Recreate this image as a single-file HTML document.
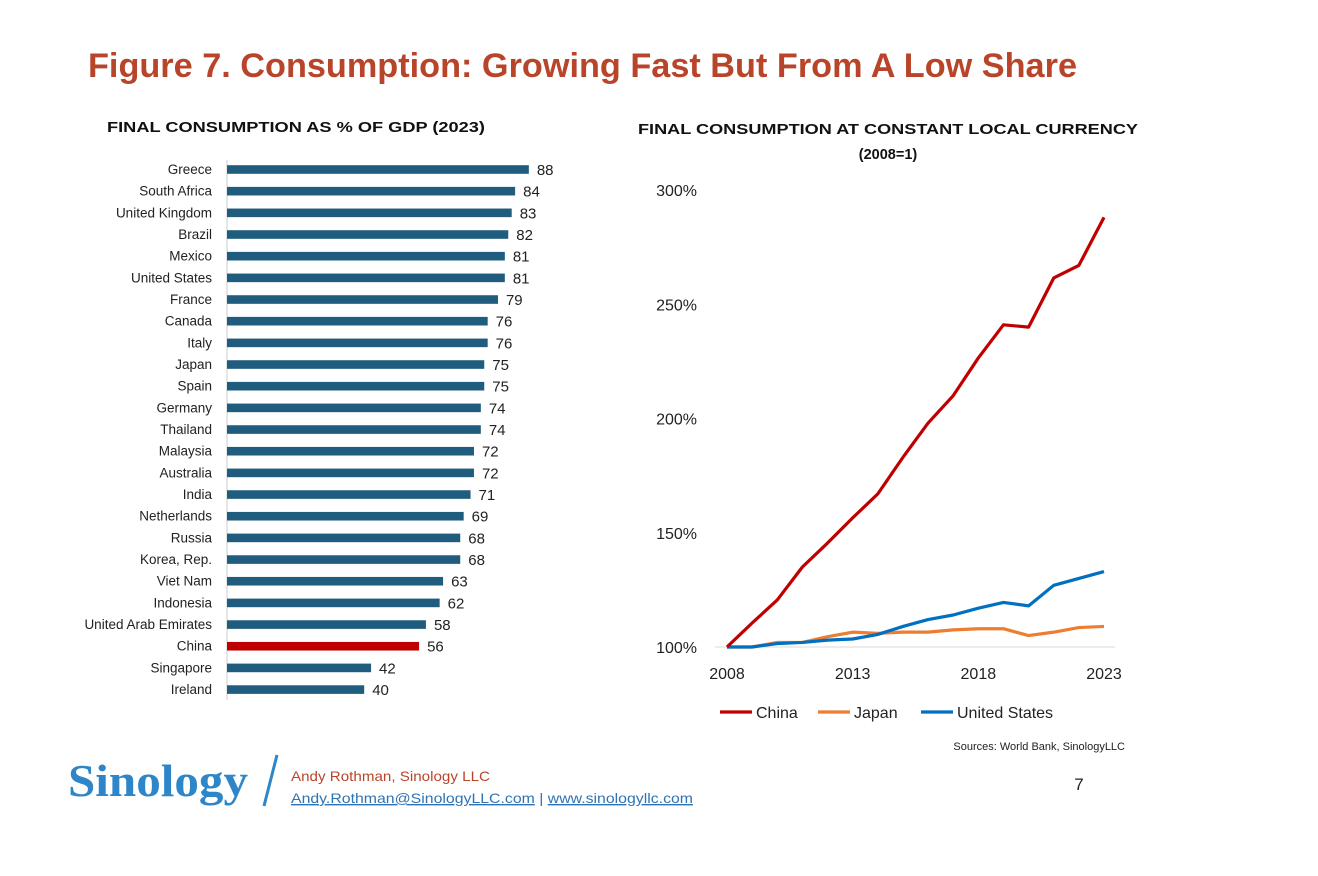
<!DOCTYPE html>
<html><head><meta charset="utf-8"><style>
body{margin:0;background:#fff;}
svg{display:block;font-family:"Liberation Sans",sans-serif;}
</style></head><body>
<svg id="s" width="1318" height="876" viewBox="0 0 1318 876">
<text x="88" y="77" font-size="34" font-weight="bold" fill="#b8452a" textLength="989" lengthAdjust="spacingAndGlyphs">Figure 7. Consumption: Growing Fast But From A Low Share</text>
<text x="296" y="132" font-size="14.5" font-weight="bold" text-anchor="middle" fill="#111" textLength="378" lengthAdjust="spacingAndGlyphs">FINAL CONSUMPTION AS % OF GDP (2023)</text>
<text x="888" y="134" font-size="14.5" font-weight="bold" text-anchor="middle" fill="#111" textLength="500" lengthAdjust="spacingAndGlyphs">FINAL CONSUMPTION AT CONSTANT LOCAL CURRENCY</text>
<text x="888" y="159" font-size="14.5" font-weight="bold" text-anchor="middle" fill="#111">(2008=1)</text>
<g id="bars"></g>
<g id="line"></g>
<text x="1125" y="750" font-size="11" text-anchor="end" fill="#222">Sources: World Bank, SinologyLLC</text>
<text x="1079" y="790" font-size="17" text-anchor="middle" fill="#222">7</text>
<text x="68" y="796" font-size="45" font-weight="bold" fill="#2e86c8" font-family="Liberation Serif,serif" textLength="180" lengthAdjust="spacingAndGlyphs">Sinology</text>
<line x1="277" y1="755" x2="264" y2="806" stroke="#2e86c8" stroke-width="3"/>
<text x="291" y="781" font-size="14" fill="#b8452a" textLength="199" lengthAdjust="spacingAndGlyphs">Andy Rothman, Sinology LLC</text>
<text x="291" y="803" font-size="14" fill="#2e74b5" textLength="402" lengthAdjust="spacingAndGlyphs"><tspan text-decoration="underline">Andy.Rothman@SinologyLLC.com</tspan> | <tspan text-decoration="underline">www.sinologyllc.com</tspan></text>
</svg>
<script>
const countries=["Greece","South Africa","United Kingdom","Brazil","Mexico","United States","France","Canada","Italy","Japan","Spain","Germany","Thailand","Malaysia","Australia","India","Netherlands","Russia","Korea, Rep.","Viet Nam","Indonesia","United Arab Emirates","China","Singapore","Ireland"];
const shares=[88,84,83,82,81,81,79,76,76,75,75,74,74,72,72,71,69,68,68,63,62,58,56,42,40];
const years=[2008,2009,2010,2011,2012,2013,2014,2015,2016,2017,2018,2019,2020,2021,2022,2023];
const china=[100,110.5,120.6,135,145.5,156.5,167,183,198,210,226.5,241,240,261.5,267,288];
const japan=[100,100,102,102,104.5,106.5,106,106.5,106.5,107.5,108,108,105,106.5,108.5,109];
const usa=[100,100,101.5,102,103,103.5,105.5,109,112,114,117,119.5,118,127,130,133];
const yTicks=[100,150,200,250,300];
const xTicks=[2008,2013,2018,2023];
const NS="http://www.w3.org/2000/svg";
function mk(t,a,p,txt){const e=document.createElementNS(NS,t);for(const k in a)e.setAttribute(k,a[k]);if(txt!==undefined)e.textContent=txt;p.appendChild(e);return e;}
const bg=document.getElementById('bars');
const bx0=227,bpx=3.43,by0=169.5,bstep=21.67;
const bx=v=>bx0+v*bpx, byc=i=>by0+i*bstep;
let ax=mk('line',{x1:bx0,y1:160,x2:bx0,y2:700,stroke:'#ccc','stroke-width':1},bg);

countries.forEach((c,i)=>{
 const y=byc(i);
 const l=mk('text',{x:212,y:y+4.5,'font-size':13.5,'text-anchor':'end',fill:'#222'},bg,c);
 
 const r=mk('rect',{x:bx0,y:y-4.3,width:bx(shares[i])-bx0,height:8.6,fill:c==='China'?'#c00000':'#1f5c7e'},bg);
 
 const v=mk('text',{x:bx(shares[i])+8,y:y+5.5,'font-size':15,fill:'#222'},bg,shares[i]);
 
});
const lg=document.getElementById('line');
const X=yr=>727+(yr-2008)*(1104-727)/15;
const Y=v=>647-(v-100)*(457/200);
let base=mk('line',{x1:715,y1:647,x2:1115,y2:647,stroke:'#d9d9d9','stroke-width':1},lg);

yTicks.forEach(t=>{const e=mk('text',{x:697,y:Y(t)+6,'font-size':16,'text-anchor':'end',fill:'#222'},lg,t+'%');
 });
xTicks.forEach(t=>{const e=mk('text',{x:X(t),y:679,'font-size':16,'text-anchor':'middle',fill:'#222'},lg,t);
 });
const series=[['japan',japan,'#ed7d31'],['united-states',usa,'#0070c0'],['china',china,'#c00000']];
series.forEach(([n,d,c])=>{
 const p=mk('polyline',{points:d.map((v,i)=>X(years[i])+','+Y(v)).join(' '),fill:'none',stroke:c,'stroke-width':3.2,'stroke-linejoin':'round'},lg);
 
});
const leg=[['China','#c00000',720],['Japan','#ed7d31',818],['United States','#0070c0',921]];
leg.forEach(([n,c,x])=>{
 const g=mk('g',{},lg);
 
 
 mk('line',{x1:x,y1:712,x2:x+32,y2:712,stroke:c,'stroke-width':3.2},g);
 mk('text',{x:x+36,y:718,'font-size':16,fill:'#222'},g,n);
});
</script>
</body></html>
